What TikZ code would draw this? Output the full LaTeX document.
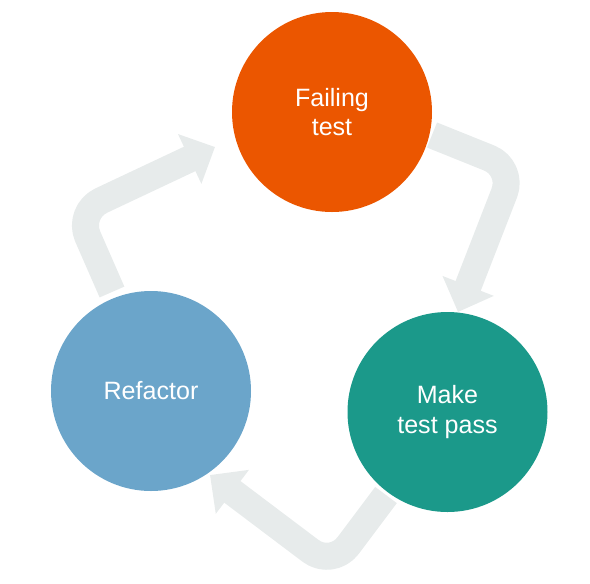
\documentclass[tikz,border=0pt]{standalone}
\usepackage{fontspec}
\setmainfont{Liberation Sans}
\usetikzlibrary{arrows.meta}
\definecolor{failc}{HTML}{EB5600}
\definecolor{passc}{HTML}{1B998A}
\definecolor{refc}{HTML}{6BA5CA}
\definecolor{bandc}{HTML}{E7EBEB}
\tikzset{
  stage/.style={circle, minimum size=150pt, inner sep=0pt, text=white,
    align=center, font=\fontsize{18.8pt}{22pt}\selectfont},
  band/.style={draw=bandc, line width=20.25pt, line cap=butt, line join=round,
    rounded corners=20pt,
    -{Triangle[length=21pt, width=40pt, color=bandc]}}
}
\begin{document}
\begin{tikzpicture}[x=0.75pt, y=-0.75pt]
\useasboundingbox (0,0) rectangle (590,583);
% arrows
\coordinate (a1s) at (432,135);
\coordinate (a1c) at (514,168);
\coordinate (a1e) at (458,312);
\coordinate (a2s) at (386,495);
\coordinate (a2c) at (332,567);
\coordinate (a2e) at (210,475);
\coordinate (a3s) at (112,292);
\coordinate (a3c) at (77,212);
\coordinate (a3e) at (215,147);
\draw[band] (a1s) -- (a1c) -- (a1e);
\draw[band] (a2s) -- (a2c) -- (a2e);
\draw[band] (a3s) -- (a3c) -- (a3e);
% circles
\node[stage, fill=failc] (fail) at (332,112) {Failing\\test};
\node[stage, fill=passc] (pass) at (447.5,412) {Make\\test pass};
\node[stage, fill=refc] (refa) at (151,391) {Refactor};
\end{tikzpicture}
\end{document}
